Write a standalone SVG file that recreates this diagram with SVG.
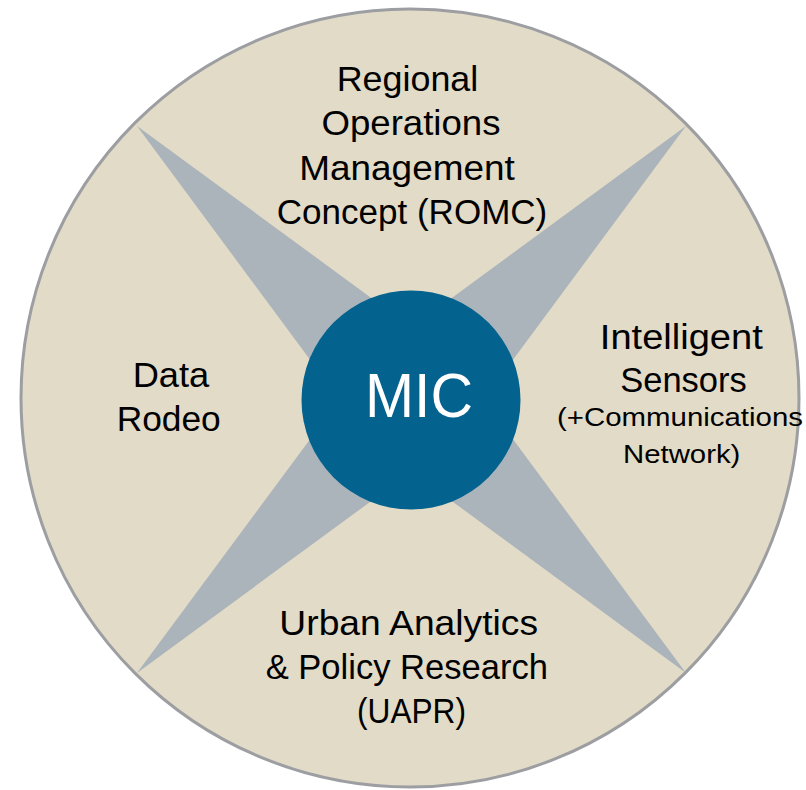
<svg xmlns="http://www.w3.org/2000/svg" width="806" height="790" viewBox="0 0 806 790">
<style>
.lbl{font-family:"Liberation Sans",Arial,Helvetica,sans-serif;fill:#000;text-anchor:middle}
.big{font-size:35px}
.small{font-size:26px}
.mic{font-family:"Liberation Sans",Arial,Helvetica,sans-serif;font-size:63px;fill:#fff;text-anchor:middle}
</style>
<rect width="806" height="790" fill="#fff"/>
<g id="outer">
<circle cx="410" cy="398" r="389" fill="#e2dbc7" stroke="#9c9ea2" stroke-width="3"/>
</g>
<g id="connectors">
<polygon points="137,126 411.5,327.5 686,126 483.5,399.5 686,673 411.5,471.5 137,673 339.5,399.5" fill="#abb4bb"/>
</g>
<g id="mic">
<circle cx="411" cy="400" r="109.5" fill="#03628e"/>
<text class="mic" x="419" y="417" textLength="108" lengthAdjust="spacingAndGlyphs">MIC</text>
</g>
<g id="romc">
<text class="lbl big" x="407.5" y="91" textLength="141.6" lengthAdjust="spacingAndGlyphs">Regional</text>
<text class="lbl big" x="411" y="135" textLength="179" lengthAdjust="spacingAndGlyphs">Operations</text>
<text class="lbl big" x="407" y="180" textLength="215.7" lengthAdjust="spacingAndGlyphs">Management</text>
<text class="lbl big" x="412" y="224" textLength="270.6" lengthAdjust="spacingAndGlyphs">Concept (ROMC)</text>
</g>
<g id="sensors">
<text class="lbl big" x="681.3" y="349" textLength="163" lengthAdjust="spacingAndGlyphs">Intelligent</text>
<text class="lbl big" x="683.5" y="392" textLength="126.7" lengthAdjust="spacingAndGlyphs">Sensors</text>
<text class="lbl small" x="680" y="426" textLength="246" lengthAdjust="spacingAndGlyphs">(+Communications</text>
<text class="lbl small" x="681.7" y="463" textLength="117.3" lengthAdjust="spacingAndGlyphs">Network)</text>
</g>
<g id="rodeo">
<text class="lbl big" x="171" y="387" textLength="76.6" lengthAdjust="spacingAndGlyphs">Data</text>
<text class="lbl big" x="168.7" y="431" textLength="104" lengthAdjust="spacingAndGlyphs">Rodeo</text>
</g>
<g id="uapr">
<text class="lbl big" x="408.7" y="635" textLength="258.7" lengthAdjust="spacingAndGlyphs">Urban Analytics</text>
<text class="lbl big" x="406.8" y="679" textLength="282.3" lengthAdjust="spacingAndGlyphs">&amp; Policy Research</text>
<text class="lbl big" x="411.5" y="723" textLength="109" lengthAdjust="spacingAndGlyphs">(UAPR)</text>
</g>
</svg>
